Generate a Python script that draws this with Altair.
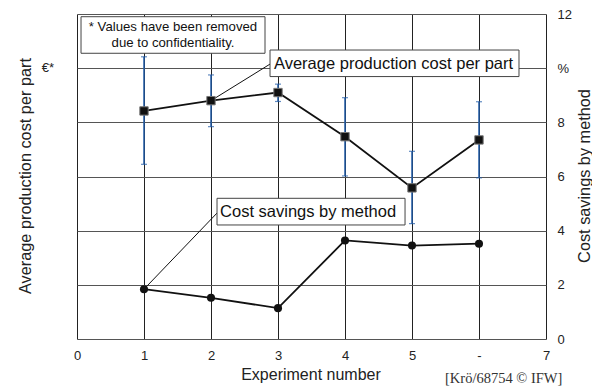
import altair as alt
import pandas as pd

# ---- data ----
experiments = [1, 2, 3, 4, 5, 6]          # 6th experiment is labelled "-"
avg_cost = [8.42, 8.80, 9.10, 7.47, 5.58, 7.35]
avg_cost_low = [6.45, 7.84, 8.77, 6.02, 4.26, 5.95]
avg_cost_high = [10.42, 9.75, 9.41, 8.91, 6.93, 8.76]
savings = [1.84, 1.52, 1.14, 3.64, 3.45, 3.52]
x_ticks = [0, 1, 2, 3, 4, 5, 6, 7]
y_ticks = [0, 2, 4, 6, 8, 10, 12]

W, H = 469, 325
FONT = "Liberation Sans"
ERR = "#1f5aa6"

df = pd.DataFrame({
    "exp": experiments, "cost": avg_cost, "low": avg_cost_low,
    "high": avg_cost_high, "sav": savings,
})

xs = alt.Scale(domain=[0, 7], nice=False, zero=False)
ys = alt.Scale(domain=[0, 12], nice=False, zero=False)
x_axis = alt.Axis(values=x_ticks, labelExpr="datum.value == 6 ? '-' : datum.label",
                  ticks=False, domain=False, grid=True, gridColor="#222", gridWidth=1,
                  labelPadding=10, labelFontSize=13, labelFont=FONT, labelColor="#222",
                  labelFlush=False, labelOverlap=False, title=None)
y_axis = alt.Axis(values=y_ticks, orient="right",
                  labelExpr="datum.value == 10 ? '%' : datum.label",
                  ticks=False, domain=False, grid=True, gridColor="#555", gridWidth=1,
                  labelPadding=11, labelFontSize=13, labelFont=FONT, labelColor="#222",
                  labelFlush=False, labelOverlap=False, labelAlign="left", title=None)


def X(f):
    return alt.X(f, type="quantitative", scale=xs, axis=x_axis)


def Y(f):
    return alt.Y(f, type="quantitative", scale=ys, axis=y_axis)


base = alt.Chart(df)

err_rule = base.mark_rule(color=ERR, strokeWidth=1.5).encode(x=X("exp"), y=Y("low"), y2="high")
err_lo = base.mark_tick(color=ERR, size=6, thickness=1.2, orient="horizontal").encode(x=X("exp"), y=Y("low"))
err_hi = base.mark_tick(color=ERR, size=6, thickness=1.2, orient="horizontal").encode(x=X("exp"), y=Y("high"))
cost_line = base.mark_line(color="#111", strokeWidth=1.8).encode(x=X("exp"), y=Y("cost"))
cost_pts = base.mark_point(shape="square", filled=True, size=70, color="#111",
                           stroke="#777", strokeWidth=1, opacity=1).encode(x=X("exp"), y=Y("cost"))
sav_line = base.mark_line(color="#111", strokeWidth=1.8).encode(x=X("exp"), y=Y("sav"))
sav_pts = base.mark_point(shape="circle", filled=True, size=65, color="#111",
                          opacity=1).encode(x=X("exp"), y=Y("sav"))

# ---- annotations (positions in data units) ----
leaders = pd.DataFrame({"x": [2.881, 2.09], "y": [10.15, 4.65], "x2": [2.0, 1.0], "y2": [8.80, 1.84]})
lead = alt.Chart(leaders).mark_rule(color="#111", strokeWidth=1).encode(
    x=X("x"), y=Y("y"), x2="x2", y2="y2")

boxes = pd.DataFrame({
    "x": [0.06, 2.881, 2.09], "x2": [2.806, 6.597, 4.896],
    "y": [11.90, 10.67, 5.195], "y2": [10.55, 9.69, 4.21],
})
box = alt.Chart(boxes).mark_rect(fill="white", stroke="#444", strokeWidth=1).encode(
    x=X("x"), x2="x2", y=Y("y"), y2="y2")

labels = pd.DataFrame({
    "x": [2.94, 2.135], "y": [10.17, 4.69],
    "t": ["Average production cost per part", "Cost savings by method"],
})
lab = alt.Chart(labels).mark_text(align="left", baseline="middle", font=FONT,
                                  fontSize=16.5, color="#111").encode(x=X("x"), y=Y("y"), text="t")

note = pd.DataFrame({"x": [1.433, 1.433], "y": [11.52, 10.93],
                     "t": ["* Values have been removed", "due to confidentiality."]})
note_t = alt.Chart(note).mark_text(align="center", baseline="middle", font=FONT,
                                   fontSize=13.2, color="#111").encode(x=X("x"), y=Y("y"), text="t")

one = pd.DataFrame({"a": [0]})
euro = alt.Chart(one).mark_text(text="€*", font=FONT, fontSize=13, color="#222",
                                align="center", baseline="middle").encode(
    x=alt.value(-29), y=alt.value(54))
x_title = alt.Chart(one).mark_text(text="Experiment number", font=FONT, fontSize=16,
                                   color="#222", align="center", baseline="middle").encode(
    x=alt.value(234), y=alt.value(361))
left_title = alt.Chart(one).mark_text(text="Average production cost per part", font=FONT,
                                      fontSize=16.3, color="#222", angle=270,
                                      align="center", baseline="middle").encode(
    x=alt.value(-51), y=alt.value(162))
right_title = alt.Chart(one).mark_text(text="Cost savings by method", font=FONT,
                                       fontSize=16.3, color="#222", angle=270,
                                       align="center", baseline="middle").encode(
    x=alt.value(508), y=alt.value(162))
footer = alt.Chart(one).mark_text(text="[Krö/68754 © IFW]", font="Liberation Serif",
                                  fontSize=14.5, color="#333", align="left",
                                  baseline="middle").encode(
    x=alt.value(368), y=alt.value(365))

chart = alt.layer(
    lead, err_rule, err_lo, err_hi, cost_line, cost_pts, sav_line, sav_pts,
    box, lab, note_t, euro, x_title, left_title, right_title, footer,
).properties(
    width=W, height=H,
    autosize=alt.AutoSizeParams(type="none"),
    padding={"left": 69, "top": 6, "right": 46, "bottom": 50},
).configure_view(stroke="#444", strokeWidth=1.2).configure(background="white")

chart.save("out.html", embed_options={"renderer": "svg", "actions": False})
